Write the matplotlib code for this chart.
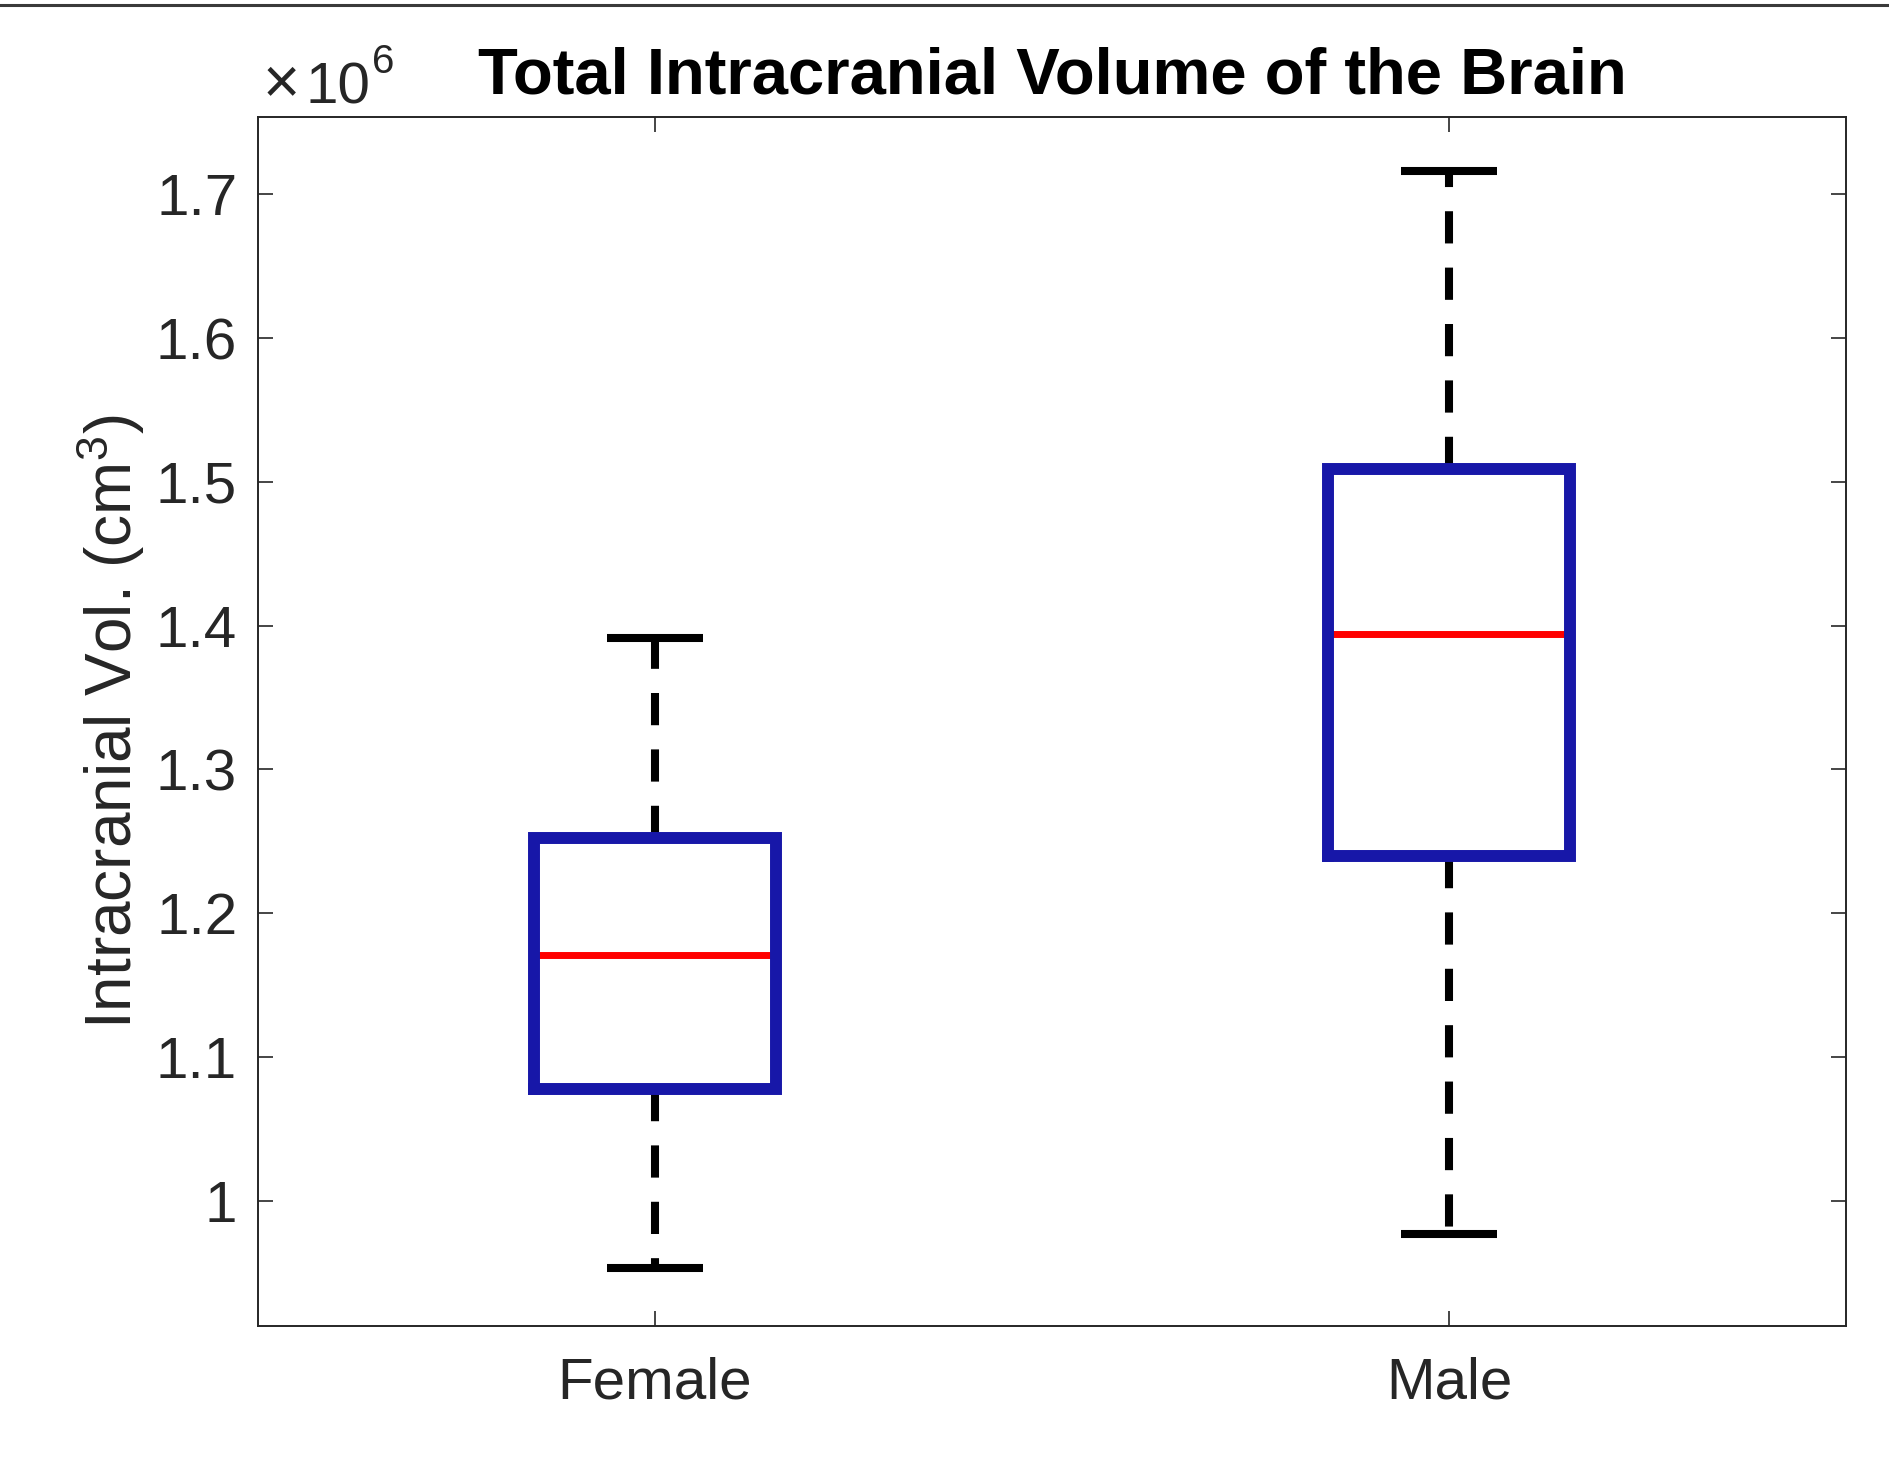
import matplotlib
matplotlib.use("Agg")
import matplotlib.pyplot as plt
from matplotlib.lines import Line2D
from matplotlib.ticker import FuncFormatter, FixedLocator

plt.rcParams['font.family'] = ['Liberation Sans', 'DejaVu Sans']
plt.rcParams['mathtext.fontset'] = 'custom'
plt.rcParams['mathtext.rm'] = 'Liberation Sans'
plt.rcParams['mathtext.it'] = 'Liberation Sans:italic'
plt.rcParams['mathtext.bf'] = 'Liberation Sans:bold'

# ---- data ----
categories = ["Female", "Male"]
whisker_low = [0.953e6, 0.977e6]
q1 = [1.078e6, 1.240e6]
median = [1.1706e6, 1.394e6]
q3 = [1.252e6, 1.509e6]
whisker_high = [1.3917e6, 1.7162e6]
yticks = [1.0e6, 1.1e6, 1.2e6, 1.3e6, 1.4e6, 1.5e6, 1.6e6, 1.7e6]

title = "Total Intracranial Volume of the Brain"
ylabel = r"Intracranial Vol. (cm$^{3}$)"

W, H = 1889, 1467
fig = plt.figure(figsize=(W / 100, H / 100), dpi=100)
ax = fig.add_axes([258 / W, 1 - 1326 / H, (1846 - 258) / W, (1326 - 117.3) / H])

stats = []
for i, name in enumerate(categories):
    stats.append(dict(label=name, whislo=whisker_low[i], q1=q1[i], med=median[i],
                      q3=q3[i], whishi=whisker_high[i], fliers=[]))

box_color = '#1717A8'
ax.bxp(stats, positions=[1, 2], widths=0.305, capwidths=0.12, showfliers=False,
       boxprops=dict(color=box_color, linewidth=8.6, solid_joinstyle='miter', zorder=3),
       medianprops=dict(color='#FF0000', linewidth=5.0, zorder=2),
       whiskerprops=dict(color='black', linewidth=5.8, linestyle=(0, (4, 3)),
                         dash_capstyle='butt', zorder=1),
       capprops=dict(color='black', linewidth=5.8, solid_capstyle='butt', zorder=1))

ax.set_xlim(0.5, 2.5)
ax.set_ylim(0.9128e6, 1.7536e6)
ax.yaxis.set_major_locator(FixedLocator(yticks))
ax.yaxis.set_major_formatter(FuncFormatter(lambda v, p: f"{v / 1e6:g}"))
ax.set_xticks([1, 2])
ax.set_xticklabels(categories)

axis_col = '#262626'
for s in ax.spines.values():
    s.set_color(axis_col)
    s.set_linewidth(1.4)
ax.tick_params(axis='both', direction='in', length=10.8, width=1.2, color=axis_col,
               labelsize=42, labelcolor=axis_col, top=True, right=True)
ax.tick_params(axis='y', pad=15)
ax.tick_params(axis='x', pad=22)

ax.set_title(title, fontsize=47, fontweight='bold', pad=17)
ax.set_ylabel(ylabel, fontsize=46, color=axis_col, labelpad=6)

# exponent label (x10^6) at the top-left of the axes
fig.text(263 / W, 1 - 103 / H, "\u00d7", fontsize=46, color=axis_col,
         ha='left', va='baseline')
fig.text(306 / W, 1 - 103 / H, "10", fontsize=42, color=axis_col,
         ha='left', va='baseline')
fig.text(372 / W, 1 - 73 / H, "6", fontsize=29, color=axis_col,
         ha='left', va='baseline')

fig.add_artist(Line2D([0, 1], [1 - 4.5 / H] * 2, transform=fig.transFigure,
                      color='#3a3a3a', linewidth=2.2))

fig.savefig("out.png", dpi=100)
